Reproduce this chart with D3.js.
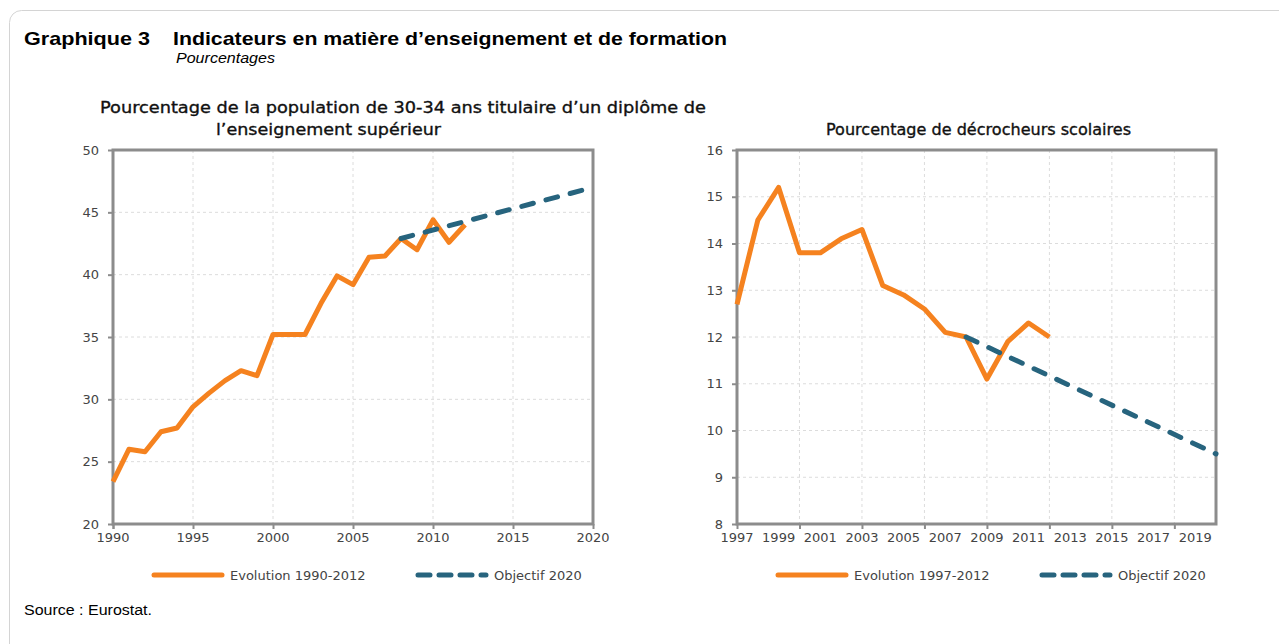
<!DOCTYPE html>
<html>
<head>
<meta charset="utf-8">
<script src="https://cdn.jsdelivr.net/npm/d3@7"></script>
<style>
  body { margin: 0; background: #fff; }
  svg text { font-family: "DejaVu Sans", Tahoma, sans-serif; }
  .tick-label { fill: #444; font-size: 13px; }
  .head { font-family: "Liberation Sans", Arial, sans-serif !important; fill: #000; }
</style>
</head>
<body>
<svg id="chart" width="1279" height="644"></svg>
<script>
// left panel : tertiary attainment, 30-34 year olds
var tertiaryYears = [1990, 1991, 1992, 1993, 1994, 1995, 1996, 1997, 1998, 1999, 2000, 2001,
  2002, 2003, 2004, 2005, 2006, 2007, 2008, 2009, 2010, 2011, 2012];
var tertiaryValues = [23.4, 26.0, 25.8, 27.4, 27.7, 29.4, 30.5, 31.5, 32.3, 31.9, 35.2, 35.2,
  35.2, 37.7, 39.9, 39.2, 41.4, 41.5, 42.9, 42.0, 44.4, 42.6, 44.0];
var tertiaryTargetYears = [2008, 2020];
var tertiaryTargetValues = [42.9, 47.0];
var tertiaryYTicks = [20, 25, 30, 35, 40, 45, 50];
var tertiaryXTicks = [1990, 1995, 2000, 2005, 2010, 2015, 2020];

// right panel : early school leavers
var dropoutYears = [1997, 1998, 1999, 2000, 2001, 2002, 2003, 2004, 2005, 2006, 2007, 2008,
  2009, 2010, 2011, 2012];
var dropoutValues = [12.7, 14.5, 15.2, 13.8, 13.8, 14.1, 14.3, 13.1, 12.9, 12.6, 12.1, 12.0,
  11.1, 11.9, 12.3, 12.0];
var dropoutTargetYears = [2008, 2020];
var dropoutTargetValues = [12.0, 9.5];
var dropoutYTicks = [8, 9, 10, 11, 12, 13, 14, 15, 16];
var dropoutXLabels = [1997, 1999, 2001, 2003, 2005, 2007, 2009, 2011, 2013, 2015, 2017, 2019];
var dropoutXGrid = [2000, 2003, 2006, 2009, 2012, 2015, 2018];

var ORANGE = "#f5821f";
var TEAL = "#27647e";
var FRAME = "#8c8c8c";

var svg = d3.select("#chart");

// outer rounded frame, runs off the right and bottom edges
svg.append("rect")
  .attr("x", 9.5).attr("y", 10.5)
  .attr("width", 1320).attr("height", 700)
  .attr("rx", 12)
  .attr("fill", "none")
  .attr("stroke", "#d4d4d4");

svg.append("text").attr("class", "head")
  .attr("x", 24).attr("y", 45)
  .attr("font-size", 19).attr("font-weight", "bold")
  .attr("textLength", 126).attr("lengthAdjust", "spacingAndGlyphs")
  .text("Graphique 3");
svg.append("text").attr("class", "head")
  .attr("x", 173).attr("y", 45)
  .attr("font-size", 19).attr("font-weight", "bold")
  .attr("textLength", 554).attr("lengthAdjust", "spacingAndGlyphs")
  .text("Indicateurs en matière d’enseignement et de formation");
svg.append("text").attr("class", "head")
  .attr("x", 176).attr("y", 63)
  .attr("font-size", 14).attr("font-style", "italic")
  .attr("textLength", 99).attr("lengthAdjust", "spacingAndGlyphs")
  .text("Pourcentages");
svg.append("text").attr("class", "head")
  .attr("x", 24).attr("y", 615)
  .attr("font-size", 14)
  .attr("textLength", 128).attr("lengthAdjust", "spacingAndGlyphs")
  .text("Source : Eurostat.");

function panel(cfg) {
  var g = svg.append("g");
  var x = d3.scaleLinear().domain(cfg.xDomain).range([cfg.left, cfg.right]);
  var y = d3.scaleLinear().domain(cfg.yDomain).range([cfg.bottom, cfg.top]);

  // dashed grid
  g.selectAll("line.hgrid")
    .data(cfg.yTicks)
    .enter().append("line")
    .attr("x1", cfg.left).attr("x2", cfg.right)
    .attr("y1", function(d) { return y(d); })
    .attr("y2", function(d) { return y(d); })
    .attr("stroke", "#dcdcdc").attr("stroke-dasharray", "3,3");
  g.selectAll("line.vgrid")
    .data(cfg.xGrid)
    .enter().append("line")
    .attr("y1", cfg.top).attr("y2", cfg.bottom)
    .attr("x1", function(d) { return x(d); })
    .attr("x2", function(d) { return x(d); })
    .attr("stroke", "#dcdcdc").attr("stroke-dasharray", "3,3");

  // axes, ticks drawn outward
  var yAxis = d3.axisLeft(y).tickValues(cfg.yTicks).tickSize(5).tickPadding(9)
    .tickFormat(d3.format("d"));
  var gy = g.append("g").attr("transform", "translate(" + cfg.left + ",0)").call(yAxis);
  var xAxis = d3.axisBottom(x).tickValues(cfg.xGrid.concat([cfg.xDomain[0]])).tickSize(5)
    .tickFormat("");
  var gx = g.append("g").attr("transform", "translate(0," + cfg.bottom + ")").call(xAxis);
  [gx, gy].forEach(function(a) {
    a.select(".domain").remove();
    a.selectAll(".tick line").attr("stroke", FRAME).attr("stroke-width", 2);
  });
  gy.selectAll(".tick text").attr("class", "tick-label").attr("font-family", null)
    .attr("font-size", null);

  g.selectAll("text.xlab")
    .data(cfg.xLabels)
    .enter().append("text")
    .attr("class", "tick-label")
    .attr("x", function(d) { return x(d); })
    .attr("y", cfg.bottom + 18)
    .attr("text-anchor", "middle")
    .text(function(d) { return d; });

  // frame
  g.append("rect")
    .attr("x", cfg.left).attr("y", cfg.top)
    .attr("width", cfg.right - cfg.left).attr("height", cfg.bottom - cfg.top)
    .attr("fill", "none").attr("stroke", FRAME).attr("stroke-width", 3);

  var line = d3.line()
    .x(function(d) { return x(d[0]); })
    .y(function(d) { return y(d[1]); });

  g.append("path")
    .datum(d3.zip(cfg.years, cfg.values))
    .attr("d", line)
    .attr("fill", "none").attr("stroke", ORANGE).attr("stroke-width", 5)
    .attr("stroke-linejoin", "round");
  g.append("path")
    .datum(d3.zip(cfg.targetYears, cfg.targetValues))
    .attr("d", line)
    .attr("fill", "none").attr("stroke", TEAL).attr("stroke-width", 5)
    .attr("stroke-dasharray", "12,13").attr("stroke-linecap", "round");

  // titles
  cfg.title.forEach(function(t) {
    var tx = g.append("text")
      .attr("x", t.x).attr("y", t.y)
      .attr("font-size", 16).attr("fill", "#111")
      .attr("stroke", "#111").attr("stroke-width", 0.35)
      .text(t.text);
    if (t.w) tx.attr("textLength", t.w).attr("lengthAdjust", "spacingAndGlyphs");
  });

  // legend
  var ly = 575;
  var lg = g.append("g");
  lg.append("line")
    .attr("x1", cfg.legendX[0]).attr("x2", cfg.legendX[0] + 68)
    .attr("y1", ly).attr("y2", ly)
    .attr("stroke", ORANGE).attr("stroke-width", 5).attr("stroke-linecap", "round");
  lg.append("text").attr("class", "tick-label")
    .attr("x", cfg.legendX[0] + 76).attr("y", ly + 5)
    .attr("font-size", 14)
    .text(cfg.legendLabels[0]);
  lg.append("line")
    .attr("x1", cfg.legendX[1]).attr("x2", cfg.legendX[1] + 68)
    .attr("y1", ly).attr("y2", ly)
    .attr("stroke", TEAL).attr("stroke-width", 5).attr("stroke-linecap", "round")
    .attr("stroke-dasharray", "12,9");
  lg.append("text").attr("class", "tick-label")
    .attr("x", cfg.legendX[1] + 76).attr("y", ly + 5)
    .attr("font-size", 14)
    .text(cfg.legendLabels[1]);
}

panel({
  left: 113, right: 593, top: 150, bottom: 524,
  xDomain: [1990, 2020], yDomain: [20, 50],
  yTicks: tertiaryYTicks, xGrid: tertiaryXTicks, xLabels: tertiaryXTicks,
  years: tertiaryYears, values: tertiaryValues,
  targetYears: tertiaryTargetYears, targetValues: tertiaryTargetValues,
  title: [
    { x: 100, y: 113, w: 606, text: "Pourcentage de la population de  30-34 ans titulaire d’un diplôme de" },
    { x: 216, y: 135, w: 225, text: "l’enseignement supérieur" }
  ],
  legendX: [154, 418],
  legendLabels: ["Evolution 1990-2012", "Objectif 2020"]
});

panel({
  left: 737, right: 1216, top: 150, bottom: 524,
  xDomain: [1997, 2020], yDomain: [8, 16],
  yTicks: dropoutYTicks, xGrid: dropoutXGrid, xLabels: dropoutXLabels,
  years: dropoutYears, values: dropoutValues,
  targetYears: dropoutTargetYears, targetValues: dropoutTargetValues,
  title: [
    { x: 826, y: 135, w: 305, text: "Pourcentage de décrocheurs scolaires" }
  ],
  legendX: [778, 1042],
  legendLabels: ["Evolution 1997-2012", "Objectif 2020"]
});
</script>
</body>
</html>
